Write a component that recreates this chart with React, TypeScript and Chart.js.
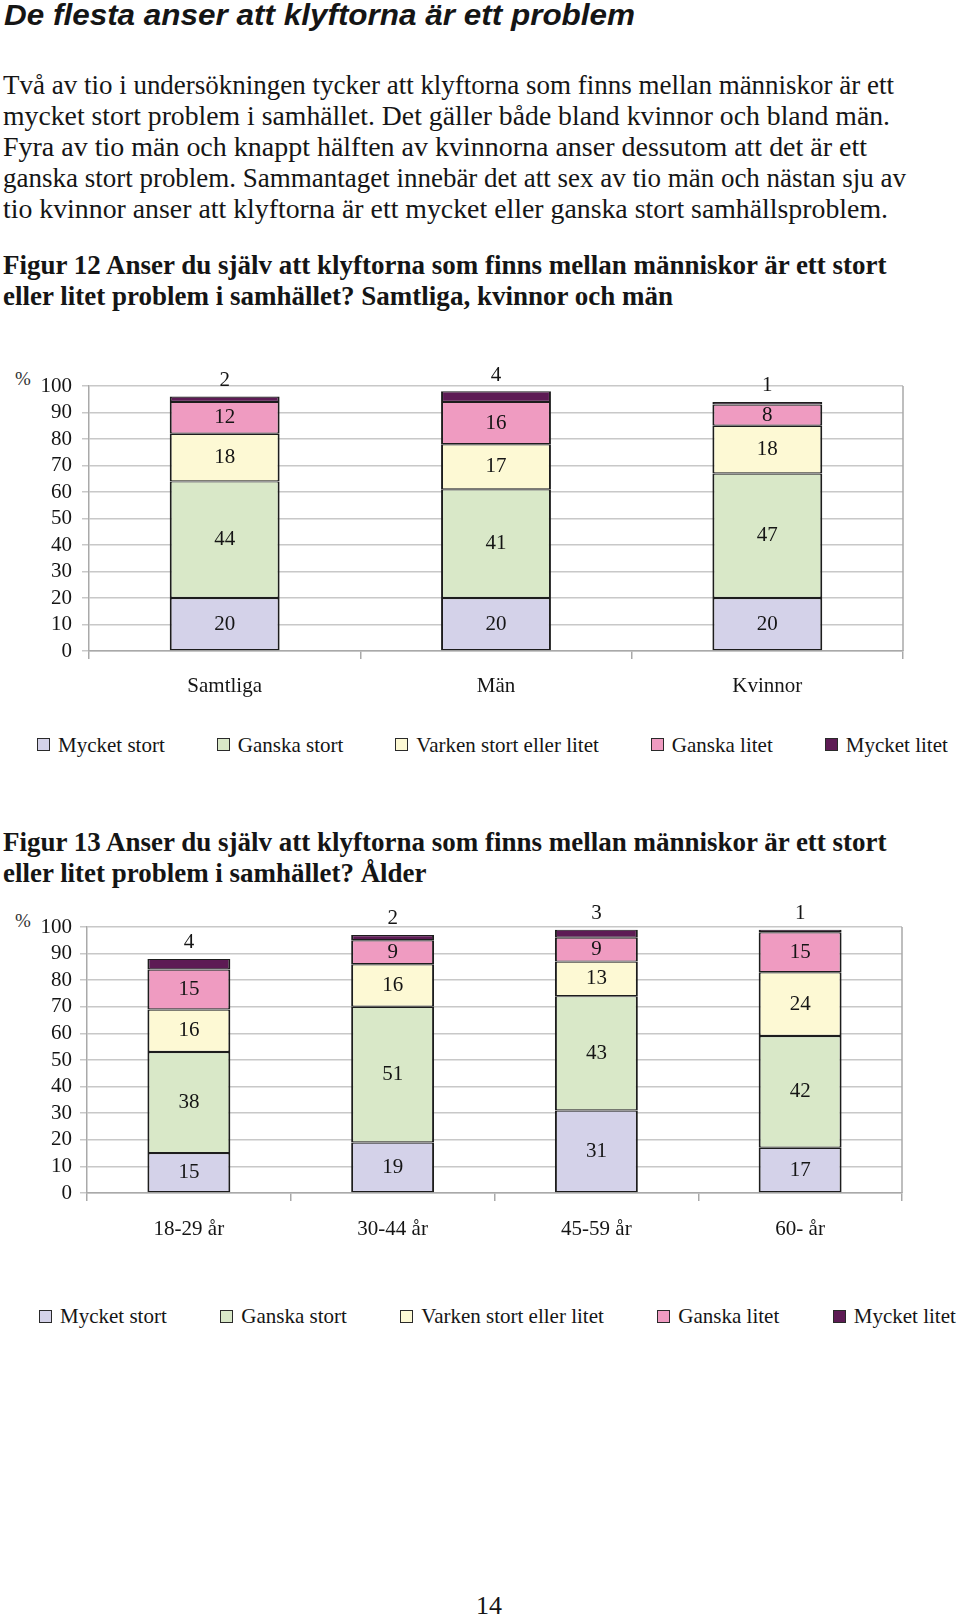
import React, { useEffect, useRef, useState, useLayoutEffect } from 'react';
import { Chart, registerables } from 'chart.js';

Chart.register(...registerables);

// ---------- data ----------
const seriesNames = ['Mycket stort', 'Ganska stort', 'Varken stort eller litet', 'Ganska litet', 'Mycket litet'];
const seriesColors = ['#d4d2e9', '#d9e8c8', '#fdf9d4', '#ef9bc1', '#5d1b54'];

const categories12 = ['Samtliga', 'Män', 'Kvinnor'];
const mycketStort12 = [20, 20, 20];
const ganskaStort12 = [44, 41, 47];
const varken12 = [18, 17, 18];
const ganskaLitet12 = [12, 16, 8];
const mycketLitet12 = [2, 4, 1];

const categories13 = ['18-29 år', '30-44 år', '45-59 år', '60- år'];
const mycketStort13 = [15, 19, 31, 17];
const ganskaStort13 = [38, 51, 43, 42];
const varken13 = [16, 16, 13, 24];
const ganskaLitet13 = [15, 9, 9, 15];
const mycketLitet13 = [4, 2, 3, 1];

const yTicks = [0, 10, 20, 30, 40, 50, 60, 70, 80, 90, 100];

const headline = 'De flesta anser att klyftorna är ett problem';
const bodyLines = [
  'Två av tio i undersökningen tycker att klyftorna som finns mellan människor är ett',
  'mycket stort problem i samhället. Det gäller både bland kvinnor och bland män.',
  'Fyra av tio män och knappt hälften av kvinnorna anser dessutom att det är ett',
  'ganska stort problem. Sammantaget innebär det att sex av tio män och nästan sju av',
  'tio kvinnor anser att klyftorna är ett mycket eller ganska stort samhällsproblem.',
];
const fig12Lines = [
  'Figur 12 Anser du själv att klyftorna som finns mellan människor är ett stort',
  'eller litet problem i samhället? Samtliga, kvinnor och män',
];
const fig13Lines = [
  'Figur 13 Anser du själv att klyftorna som finns mellan människor är ett stort',
  'eller litet problem i samhället? Ålder',
];
const pageNumber = '14';

// ---------- styling ----------
const SERIF = '"Liberation Serif", "Times New Roman", serif';
const SANS = '"Liberation Sans", Arial, sans-serif';
const TEXT = '#151515';

// ---------- helpers ----------
let measureCanvas: HTMLCanvasElement | null = null;
function measure(text: string, font: string): number {
  if (!measureCanvas) measureCanvas = document.createElement('canvas');
  const ctx = measureCanvas.getContext('2d')!;
  ctx.font = font;
  return ctx.measureText(text).width;
}

type FitProps = {
  text: string;
  left: number;
  baseline: number;
  width: number;
  size: number;
  family: string;
  weight?: string;
  italic?: boolean;
  asc: number;
};

function FitLine({ text, left, baseline, width, size, family, weight = 'normal', italic = false, asc }: FitProps) {
  const [sx, setSx] = useState(1);
  useLayoutEffect(() => {
    const font = `${italic ? 'italic ' : ''}${weight} ${size}px ${family}`;
    const w = measure(text, font);
    if (w > 0) setSx(width / w);
  }, [text, width, size, family, weight, italic]);
  return (
    <div
      style={{
        position: 'absolute',
        left,
        top: baseline - asc * size,
        height: size,
        lineHeight: `${size}px`,
        fontFamily: family,
        fontSize: size,
        fontWeight: weight as any,
        fontStyle: italic ? 'italic' : 'normal',
        whiteSpace: 'nowrap',
        color: TEXT,
        transform: `scaleX(${sx})`,
        transformOrigin: 'left top',
      }}
    >
      {text}
    </div>
  );
}

const SERIF_K = 0.8375;
const SANS_K = 0.8465;

const valueLabels = {
  id: 'valueLabels',
  afterDatasetsDraw(chart: any) {
    const ctx = chart.ctx;
    ctx.save();
    ctx.font = `21px ${SERIF}`;
    ctx.fillStyle = TEXT;
    ctx.textAlign = 'center';
    ctx.textBaseline = 'middle';
    const n = chart.data.datasets.length;
    chart.data.datasets.forEach((ds: any, i: number) => {
      const meta = chart.getDatasetMeta(i);
      meta.data.forEach((bar: any, j: number) => {
        const v = ds.data[j];
        const { x, y, base } = bar.getProps(['x', 'y', 'base'], true);
        const ty = i === n - 1 ? y - 16 : (y + base) / 2;
        ctx.fillText(String(v), x, ty);
      });
    });
    ctx.restore();
  },
};

const rightBorder = {
  id: 'rightBorder',
  beforeDatasetsDraw(chart: any) {
    const { ctx, chartArea } = chart;
    ctx.save();
    ctx.strokeStyle = '#a9a9a9';
    ctx.lineWidth = 1.5;
    ctx.beginPath();
    ctx.moveTo(chartArea.right, chartArea.top);
    ctx.lineTo(chartArea.right, chartArea.bottom);
    ctx.stroke();
    ctx.restore();
  },
};

type ChartProps = {
  top: number;
  height: number;
  categories: string[];
  series: number[][];
  padTop: number;
  padRight: number;
  yAxisWidth: number;
  xAxisHeight: number;
  xTickPadding: number;
  yTickPadding: number;
  barPct: number;
};

function StackedChart(p: ChartProps) {
  const ref = useRef<HTMLCanvasElement>(null);
  useEffect(() => {
    if (!ref.current) return;
    const font = { family: SERIF, size: 21 };
    const chart = new Chart(ref.current, {
      type: 'bar',
      data: {
        labels: p.categories,
        datasets: p.series.map((d, i) => ({
          label: seriesNames[i],
          data: d,
          backgroundColor: seriesColors[i],
          borderColor: '#1d1d1d',
          borderWidth: { top: 1.2, bottom: 1.2, left: 2, right: 2 },
          borderSkipped: false,
          barPercentage: p.barPct,
          categoryPercentage: 1,
        })),
      },
      options: {
        responsive: false,
        animation: false,
        devicePixelRatio: 1,
        layout: { padding: { top: p.padTop, right: p.padRight, left: 0, bottom: 0 } },
        plugins: { legend: { display: false }, tooltip: { enabled: false } },
        scales: {
          x: {
            stacked: true,
            grid: { offset: true, drawOnChartArea: false, tickLength: 8, color: '#a9a9a9', lineWidth: 1.5 },
            border: { color: '#a9a9a9', width: 1.5 },
            ticks: { font, color: TEXT, padding: p.xTickPadding, maxRotation: 0, autoSkip: false },
            afterFit: (s: any) => {
              s.height = p.xAxisHeight;
            },
          },
          y: {
            stacked: true,
            min: yTicks[0],
            max: yTicks[yTicks.length - 1],
            afterBuildTicks: (s: any) => {
              s.ticks = yTicks.map((v) => ({ value: v }));
            },
            ticks: { font, color: TEXT, padding: p.yTickPadding, autoSkip: false },
            grid: { color: '#c8c8c8', tickLength: 7, lineWidth: 1.5 },
            border: { color: '#a9a9a9', width: 1.5 },
            afterFit: (s: any) => {
              s.width = p.yAxisWidth;
            },
          },
        },
      } as any,
      plugins: [rightBorder, valueLabels],
    });
    return () => chart.destroy();
  }, []);
  return (
    <div style={{ position: 'absolute', left: 0, top: p.top, width: 960, height: p.height }}>
      <canvas ref={ref} width={960} height={p.height} style={{ display: 'block', width: 960, height: p.height }} />
    </div>
  );
}

function Legend({ left, centerY, gap }: { left: number; centerY: number; gap: number }) {
  return (
    <div
      style={{
        position: 'absolute',
        left,
        top: centerY - 13,
        height: 26,
        width: 'max-content',
        display: 'flex',
        flexWrap: 'nowrap',
        alignItems: 'center',
        gap,
        fontFamily: SERIF,
        fontSize: 21,
        lineHeight: '26px',
        whiteSpace: 'nowrap',
        color: TEXT,
      }}
    >
      {seriesNames.map((n, i) => (
        <div key={n} style={{ display: 'flex', alignItems: 'center', flexShrink: 0 }}>
          <span
            style={{
              display: 'inline-block',
              width: 11,
              height: 11,
              background: seriesColors[i],
              border: '1px solid #2a2a2a',
              marginRight: 8,
            }}
          />
          <span>{n}</span>
        </div>
      ))}
    </div>
  );
}

function Percent({ baseline }: { baseline: number }) {
  return (
    <div
      style={{
        position: 'absolute',
        left: 15,
        top: baseline - SERIF_K * 19,
        fontFamily: SERIF,
        fontSize: 19,
        lineHeight: '19px',
        color: '#333',
      }}
    >
      %
    </div>
  );
}

export default function App() {
  const bodyEnds = [894, 890, 867, 906, 888];
  return (
    <div style={{ position: 'absolute', left: 0, top: 0, width: 960, height: 1618, background: '#fff', overflow: 'hidden' }}>
      <FitLine text={headline} left={4} baseline={25} width={631} size={30} family={SANS} weight="bold" italic asc={SANS_K} />
      {bodyLines.map((t, i) => (
        <FitLine key={i} text={t} left={3} baseline={94.3 + i * 31} width={bodyEnds[i] - 3} size={26.5} family={SERIF} asc={SERIF_K} />
      ))}
      <FitLine text={fig12Lines[0]} left={3} baseline={275} width={887} size={27} family={SERIF} weight="bold" asc={SERIF_K} />
      <FitLine text={fig12Lines[1]} left={3} baseline={306} width={671} size={27} family={SERIF} weight="bold" asc={SERIF_K} />

      <Percent baseline={385} />
      <StackedChart
        top={340}
        height={370}
        categories={categories12}
        series={[mycketStort12, ganskaStort12, varken12, ganskaLitet12, mycketLitet12]}
        padTop={46}
        padRight={57}
        yAxisWidth={89}
        xAxisHeight={59}
        xTickPadding={15}
        yTickPadding={10}
        barPct={0.405}
      />
      <Legend left={37} centerY={744.6} gap={52} />

      <FitLine text={fig13Lines[0]} left={3} baseline={852} width={887} size={27} family={SERIF} weight="bold" asc={SERIF_K} />
      <FitLine text={fig13Lines[1]} left={3} baseline={883} width={424} size={27} family={SERIF} weight="bold" asc={SERIF_K} />

      <Percent baseline={927} />
      <StackedChart
        top={880}
        height={370}
        categories={categories13}
        series={[mycketStort13, ganskaStort13, varken13, ganskaLitet13, mycketLitet13]}
        padTop={47}
        padRight={58}
        yAxisWidth={87}
        xAxisHeight={57}
        xTickPadding={16}
        yTickPadding={8}
        barPct={0.407}
      />
      <Legend left={39} centerY={1316.2} gap={53.5} />

      <div
        style={{
          position: 'absolute',
          left: 0,
          width: 978,
          top: 1615 - SERIF_K * 26,
          textAlign: 'center',
          fontFamily: SERIF,
          fontSize: 26,
          lineHeight: '26px',
          color: TEXT,
        }}
      >
        {pageNumber}
      </div>
    </div>
  );
}
